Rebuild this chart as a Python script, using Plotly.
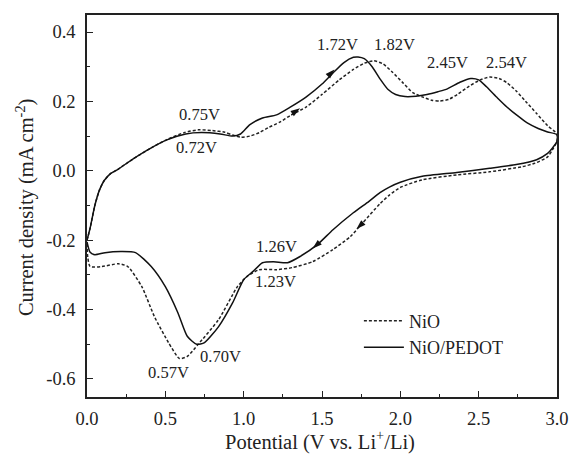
import math
import plotly.graph_objects as go

# NiO (dashed): anodic sweep 0->3 V then cathodic sweep 3->0 V
nio_x = [0.0, 0.02, 0.05, 0.08, 0.11, 0.15, 0.2, 0.29, 0.41, 0.51, 0.62, 0.71, 0.80, 0.88, 0.93, 0.98,
         1.04, 1.10, 1.16, 1.23, 1.30, 1.40, 1.50, 1.61, 1.70, 1.77, 1.83, 1.89, 1.95, 2.02, 2.08, 2.14,
         2.20, 2.25, 2.31, 2.37, 2.44, 2.51, 2.57, 2.63, 2.68, 2.74, 2.80, 2.87, 2.94, 3.0,
         3.0, 2.97, 2.94, 2.86, 2.78, 2.57, 2.36, 2.14, 2.0, 1.93, 1.87, 1.76, 1.68, 1.57, 1.44, 1.31,
         1.21, 1.10, 1.02, 0.96, 0.84, 0.71, 0.64, 0.59, 0.52, 0.43, 0.35, 0.26, 0.20, 0.095, 0.02, 0.005, 0.0]
nio_y = [-0.20, -0.165, -0.10, -0.055, -0.028, -0.008, 0.005, 0.033, 0.066, 0.090, 0.110, 0.118, 0.116,
         0.111, 0.103, 0.097, 0.100, 0.110, 0.125, 0.140, 0.160, 0.184, 0.220, 0.262, 0.292, 0.310, 0.317,
         0.308, 0.284, 0.252, 0.225, 0.213, 0.203, 0.201, 0.206, 0.222, 0.244, 0.262, 0.270, 0.266, 0.254,
         0.230, 0.200, 0.165, 0.130, 0.106,
         0.085, 0.060, 0.040, 0.022, 0.012, -0.003, -0.012, -0.026, -0.048, -0.070, -0.095, -0.150, -0.190,
         -0.227, -0.262, -0.279, -0.285, -0.285, -0.305, -0.334, -0.429, -0.500, -0.535, -0.541, -0.495,
         -0.420, -0.334, -0.276, -0.268, -0.276, -0.276, -0.25, -0.21]

# NiO/PEDOT (solid)
pedot_x = [0.0, 0.02, 0.05, 0.08, 0.11, 0.15, 0.2, 0.29, 0.41, 0.51, 0.63, 0.73, 0.85, 0.93, 0.98, 1.04,
           1.12, 1.21, 1.30, 1.40, 1.50, 1.57, 1.64, 1.70, 1.73, 1.77, 1.82, 1.87, 1.92, 1.97, 2.03, 2.10,
           2.17, 2.24, 2.30, 2.38, 2.45, 2.50, 2.55, 2.62, 2.68, 2.75, 2.81, 2.88, 2.94, 3.0,
           3.0, 2.97, 2.94, 2.87, 2.74, 2.57, 2.36, 2.14, 2.0, 1.93, 1.87, 1.80, 1.70, 1.57, 1.47, 1.36,
           1.28, 1.19, 1.12, 1.06, 1.0, 0.93, 0.84, 0.75, 0.70, 0.64, 0.58, 0.50, 0.41, 0.31, 0.22, 0.115,
           0.05, 0.02, 0.0]
pedot_y = [-0.20, -0.165, -0.10, -0.055, -0.028, -0.008, 0.005, 0.033, 0.066, 0.089, 0.106, 0.110, 0.106,
           0.100, 0.106, 0.133, 0.152, 0.161, 0.184, 0.213, 0.250, 0.282, 0.312, 0.327, 0.328, 0.323, 0.300,
           0.265, 0.235, 0.220, 0.214, 0.215, 0.220, 0.228, 0.236, 0.255, 0.266, 0.262, 0.242, 0.210, 0.184,
           0.158, 0.138, 0.122, 0.112, 0.104,
           0.085, 0.065, 0.050, 0.032, 0.018, 0.007, -0.005, -0.016, -0.033, -0.047, -0.063, -0.088, -0.121,
           -0.170, -0.213, -0.247, -0.265, -0.262, -0.265, -0.290, -0.314, -0.380, -0.449, -0.495, -0.500,
           -0.477, -0.409, -0.334, -0.276, -0.236, -0.233, -0.236, -0.242, -0.235, -0.205]

peak_labels = ["0.75V", "0.72V", "1.72V", "1.82V", "2.45V", "2.54V", "1.26V", "1.23V", "0.57V", "0.70V"]
peak_lx = [0.72, 0.70, 1.60, 1.965, 2.30, 2.68, 1.21, 1.20, 0.52, 0.85]
peak_ly = [0.161, 0.066, 0.363, 0.363, 0.311, 0.311, -0.219, -0.319, -0.581, -0.535]

# scan-direction arrowheads: head position and the point just behind it on the curve
arrow_hx = [1.58, 1.36, 1.44, 1.72]
arrow_hy = [0.292, 0.180, -0.224, -0.168]
arrow_tx = [1.50, 1.28, 1.52, 1.78]
arrow_ty = [0.255, 0.156, -0.192, -0.142]

x_ticks = [0.0, 0.5, 1.0, 1.5, 2.0, 2.5, 3.0]
y_ticks = [-0.6, -0.4, -0.2, 0.0, 0.2, 0.4]

FONT = "Liberation Serif"
INK = "#222"
X_RANGE = [0, 3.0]
Y_RANGE = [-0.652, 0.449]
PLOT_W, PLOT_H = 470, 382

fig = go.Figure()
fig.add_trace(go.Scatter(x=nio_x, y=nio_y, mode="lines", name="NiO",
                         line=dict(color=INK, width=1.5, dash="3px,2px", shape="spline", smoothing=0.6)))
fig.add_trace(go.Scatter(x=pedot_x, y=pedot_y, mode="lines", name="NiO/PEDOT",
                         line=dict(color="#111", width=1.5, shape="spline", smoothing=0.6)))

# arrowhead orientation in screen space (clockwise from up)
sx = PLOT_W / (X_RANGE[1] - X_RANGE[0])
sy = PLOT_H / (Y_RANGE[1] - Y_RANGE[0])
angles = [math.degrees(math.atan2((hx - tx) * sx, (hy - ty) * sy))
          for hx, hy, tx, ty in zip(arrow_hx, arrow_hy, arrow_tx, arrow_ty)]
fig.add_trace(go.Scatter(x=arrow_hx, y=arrow_hy, mode="markers", showlegend=False, hoverinfo="skip",
                         marker=dict(symbol="arrow", size=10, angle=angles, color="#111",
                                     line=dict(width=0))))

for t, lx, ly in zip(peak_labels, peak_lx, peak_ly):
    fig.add_annotation(x=lx, y=ly, text=t, showarrow=False,
                       font=dict(family=FONT, size=16.5, color=INK))

# axis titles
fig.add_annotation(xref="paper", yref="paper", x=0.496, y=-0.1126, xanchor="center", yanchor="middle",
                   text="Potential (V vs. Li<sup>+</sup>/Li)", showarrow=False,
                   font=dict(family=FONT, size=20.5, color=INK))
fig.add_annotation(xref="paper", yref="paper", x=-0.132, y=0.497, xanchor="center", yanchor="middle",
                   textangle=-90, text="Current density (mA cm<sup>-2</sup>)", showarrow=False,
                   font=dict(family=FONT, size=20.5, color=INK))

axis_common = dict(showline=True, linecolor=INK, linewidth=1.5, mirror=True, automargin=False,
                   ticks="inside", ticklen=6, tickwidth=1.2, tickcolor=INK,
                   showgrid=False, zeroline=False,
                   tickfont=dict(family=FONT, size=18.5, color=INK))

fig.update_xaxes(range=X_RANGE, tickvals=x_ticks, ticktext=[f"{v:.1f}" for v in x_ticks],
                 ticklabelstandoff=4,
                 minor=dict(ticks="inside", ticklen=3.5, tickwidth=1.2, tickcolor=INK, dtick=0.25, tick0=0),
                 **axis_common)
fig.update_yaxes(range=Y_RANGE, tickvals=y_ticks, ticktext=[f"{v:.1f}" for v in y_ticks],
                 ticklabelstandoff=6,
                 minor=dict(ticks="inside", ticklen=3.5, tickwidth=1.2, tickcolor=INK, dtick=0.1, tick0=0),
                 **axis_common)

fig.update_layout(width=570, height=464, margin=dict(l=87, r=13, t=15, b=67),
                  plot_bgcolor="white", paper_bgcolor="white",
                  legend=dict(x=0.5785, y=0.247, xanchor="left", yanchor="top", bgcolor="rgba(0,0,0,0)",
                              font=dict(family=FONT, size=18, color=INK), tracegroupgap=0, itemwidth=40),
                  showlegend=True)

fig.write_html("out.html", config={"displayModeBar": False},
               post_script="document.body.style.margin='0';")
